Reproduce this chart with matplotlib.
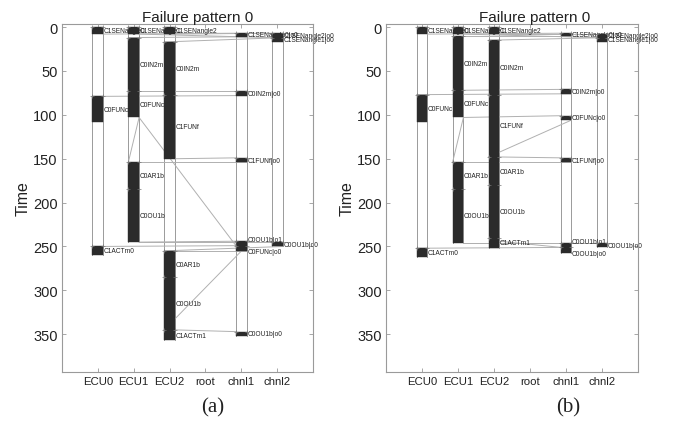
import matplotlib
matplotlib.use("Agg")
import matplotlib.pyplot as plt

resources = ["ECU0", "ECU1", "ECU2", "root", "chnl1", "chnl2"]
title = "Failure pattern 0"
yticks = [0, 50, 100, 150, 200, 250, 300, 350]

# ---- panel (a) ----
a_lane = [0, 0, 0,
          1, 1, 1, 1, 1,
          2, 2, 2, 2, 2, 2,
          4, 4, 4, 4, 4, 4,
          5, 5, 5]
a_start = [0, 79, 250,
           0, 12, 73, 154, 185,
           0, 17, 77, 255, 285, 345,
           7, 73, 149, 244, 249, 347,
           7, 12, 245]
a_end = [8, 108, 260,
         8, 73, 103, 185, 245,
         8, 77, 150, 285, 345, 357,
         11, 78, 154, 249, 255, 352,
         12, 17, 250]
a_name = ["C1SENangle0", "C0FUNc", "C1ACTm0",
          "C1SENangle1", "C0IN2m", "C0FUNc", "C0AR1b", "C0OU1b",
          "C1SENangle2", "C0IN2m", "C1FUNf", "C0AR1b", "C0OU1b", "C1ACTm1",
          "C1SENangle0|o0", "C0IN2m|o0", "C1FUNf|o0", "C0OU1b|o1", "C0FUNc|o0", "C0OU1b|o0",
          "C1SENangle2|o0", "C1SENangle1|o0", "C0OU1b|o0"]
# messages: sender lane, send time, receiver lane, receive time
a_msg_from = [0, 1, 2, 4, 5, 1, 4, 1, 1, 2, 4, 1, 4, 1, 5, 4, 4, 2]
a_msg_t0 = [8, 8, 8, 11, 12, 73, 78, 103, 103, 150, 154, 245, 249, 245, 250, 255, 249, 345]
a_msg_to = [4, 5, 5, 1, 2, 4, 0, 1, 4, 4, 1, 4, 0, 5, 2, 2, 2, 4]
a_msg_t1 = [7, 12, 7, 12, 17, 73, 79, 154, 249, 149, 154, 244, 250, 245, 255, 255, 345, 347]

# ---- panel (b) ----
b_lane = [0, 0, 0,
          1, 1, 1, 1, 1,
          2, 2, 2, 2, 2, 2,
          4, 4, 4, 4, 4, 4,
          5, 5, 5]
b_start = [0, 77, 252,
           0, 10, 72, 154, 184,
           0, 15, 77, 148, 180, 240,
           7, 71, 101, 149, 246, 251,
           8, 12, 246]
b_end = [8, 108, 262,
         8, 72, 103, 184, 246,
         8, 77, 148, 180, 240, 252,
         10, 76, 106, 154, 251, 257,
         12, 17, 251]
b_name = ["C1SENangle0", "C0FUNc", "C1ACTm0",
          "C1SENangle1", "C0IN2m", "C0FUNc", "C0AR1b", "C0OU1b",
          "C1SENangle2", "C0IN2m", "C1FUNf", "C0AR1b", "C0OU1b", "C1ACTm1",
          "C1SENangle0|o0", "C0IN2m|o0", "C0FUNc|o0", "C1FUNf|o0", "C0OU1b|o1", "C0OU1b|o0",
          "C1SENangle2|o0", "C1SENangle1|o0", "C0OU1b|o0"]
b_msg_from = [0, 1, 2, 4, 5, 1, 4, 1, 4, 1, 2, 4, 1, 4, 2, 1]
b_msg_t0 = [8, 8, 8, 10, 12, 72, 76, 103, 106, 103, 148, 154, 246, 251, 244, 246]
b_msg_to = [4, 5, 5, 1, 2, 4, 0, 4, 2, 1, 4, 1, 4, 0, 4, 5]
b_msg_t1 = [7, 12, 8, 10, 15, 71, 77, 101, 148, 154, 149, 154, 246, 252, 251, 246]

# label placement for stacked short channel slots (style only)
a_label_va = {17: "bottom", 18: "top"}
b_label_va = {18: "bottom", 19: "top"}

LW = 0.30          # lane width (x units)
BAR = "#2b2b2b"
LINE = "#9a9a9a"
TXT = "#222222"
SANS = ["Liberation Sans", "DejaVu Sans"]

fig = plt.figure(figsize=(6.84, 4.27), dpi=100)
axa = fig.add_axes([62 / 684, 1 - 373 / 427, 251 / 684, 348 / 427])
axb = fig.add_axes([386 / 684, 1 - 373 / 427, 252 / 684, 348 / 427])


def draw(ax, lane, start, end, name, mf, mt0, mto, mt1, label_va, title_x):
    xs = [i + 1 for i in range(len(resources))]
    # lane borders
    for r in range(len(resources)):
        idx = [k for k in range(len(lane)) if lane[k] == r]
        if not idx:
            continue
        lo = min(start[k] for k in idx)
        hi = max(end[k] for k in idx)
        for xe in (xs[r] - LW / 2, xs[r] + LW / 2):
            ax.plot([xe, xe], [lo, hi], color=LINE, lw=0.7, zorder=1)
    # messages
    for f, t0, g, t1 in zip(mf, mt0, mto, mt1):
        ax.plot([xs[f] + LW / 2, xs[g] - LW / 2], [t0, t1], color="#b0b0b0", lw=0.7, zorder=1)
    # task bars + labels
    for k in range(len(lane)):
        x0 = xs[lane[k]] - LW / 2
        ax.bar(x0, end[k] - start[k], width=LW, bottom=start[k], align="edge",
               color=BAR, edgecolor=BAR, lw=0.3, zorder=3)
        ax.text(x0 + LW + 0.02, (start[k] + end[k]) / 2, name[k],
                fontsize=4.8, color=TXT, va=label_va.get(k, "center"), ha="left",
                family=SANS, zorder=2, clip_on=False)
        for xe in (x0, x0 + LW):
            ax.plot(xe, start[k], marker="+", ms=2.5, mew=0.5, color="#777777", zorder=4)
    ax.set_xlim(0, 7)
    ax.set_ylim(393, -3.5)
    ax.set_xticks(xs)
    ax.set_xticklabels(resources, fontsize=8.2, family=SANS, color=TXT)
    ax.set_yticks(yticks)
    ax.set_yticklabels([str(v) for v in yticks], fontsize=10.5, family=SANS, color=TXT)
    ax.tick_params(direction="in", length=3, width=0.6, color="#999999",
                   top=True, right=True, pad=3)
    for s in ax.spines.values():
        s.set_color("#9a9a9a")
        s.set_linewidth(0.8)
    ax.set_ylabel("Time", fontsize=11.5, family=SANS, color=TXT, labelpad=2)
    ax.set_title(title, fontsize=11, family=SANS, color=TXT, x=title_x, pad=2)


draw(axa, a_lane, a_start, a_end, a_name, a_msg_from, a_msg_t0, a_msg_to, a_msg_t1, a_label_va, 0.54)
draw(axb, b_lane, b_start, b_end, b_name, b_msg_from, b_msg_t0, b_msg_to, b_msg_t1, b_label_va, 0.59)

fig.text(213 / 684, 1 - 408 / 427, "(a)", fontsize=15, family=["Liberation Serif", "DejaVu Serif"],
         ha="center", va="center", color=TXT)
fig.text(568 / 684, 1 - 408 / 427, "(b)", fontsize=15, family=["Liberation Serif", "DejaVu Serif"],
         ha="center", va="center", color=TXT)

fig.savefig("out.png", dpi=100, facecolor="white")
